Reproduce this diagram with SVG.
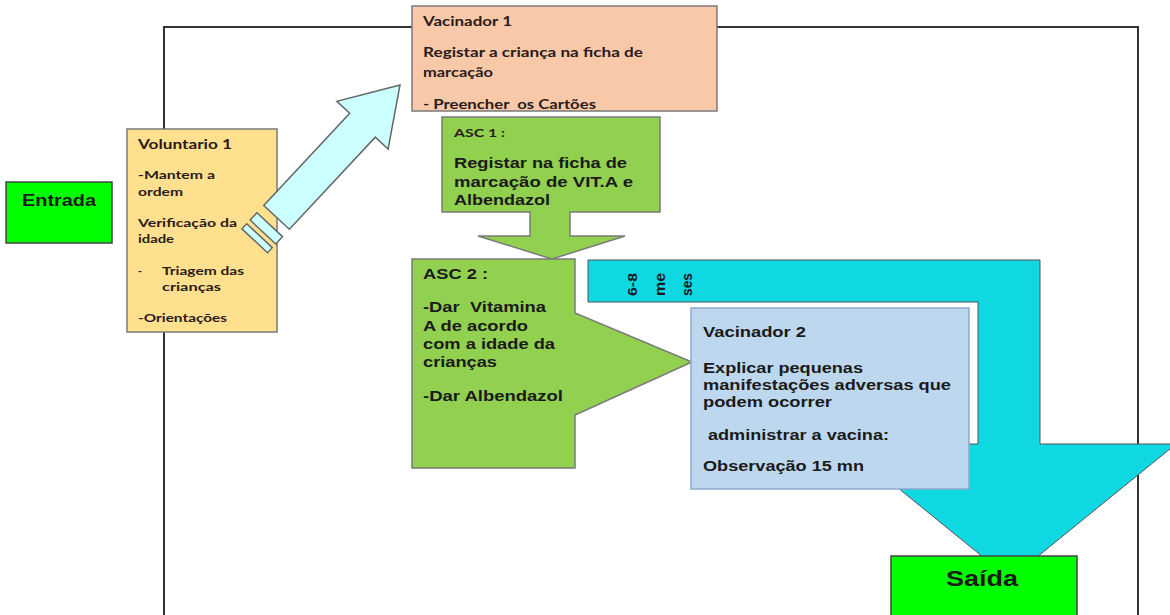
<svg xmlns="http://www.w3.org/2000/svg" width="1170" height="615" viewBox="0 0 1170 615">
<style>
.a{font-family:"Liberation Sans",Arial,sans-serif;font-weight:bold;fill:#1a1a1a}
.c{font-family:Lato,"Liberation Sans",sans-serif;font-weight:bold;fill:#2a1a1a}
.box{stroke:#7a7a7a;stroke-width:1.5}
</style>
<rect width="1170" height="615" fill="#ffffff"/>
<g id="frame"><polyline points="164,615 164,27 1138,27 1138,615" fill="none" stroke="#333" stroke-width="2"/></g>
<g id="entrada">
<rect x="6" y="182" width="106" height="61" fill="#00ff00" stroke="#444" stroke-width="1.5"/>
<text class="a" x="22" y="206" font-size="16" textLength="74" lengthAdjust="spacingAndGlyphs">Entrada</text>
</g>
<g id="voluntario1">
<rect class="box" x="127" y="129" width="150" height="203" fill="#ffe08e"/>
<text class="c" x="138" y="149" font-size="13" textLength="94" lengthAdjust="spacingAndGlyphs">Voluntario 1</text>
<text class="c" x="138" y="179" font-size="11" textLength="77" lengthAdjust="spacingAndGlyphs">-Mantem a</text>
<text class="c" x="138" y="196" font-size="11" textLength="45" lengthAdjust="spacingAndGlyphs">ordem</text>
<text class="c" x="138" y="227" font-size="11" textLength="99" lengthAdjust="spacingAndGlyphs">Verificação da</text>
<text class="c" x="138" y="243" font-size="11" textLength="36" lengthAdjust="spacingAndGlyphs">idade</text>
<text class="c" x="138" y="275" font-size="11">-</text>
<text class="c" x="162" y="275" font-size="11" textLength="82" lengthAdjust="spacingAndGlyphs">Triagem das</text>
<text class="c" x="162" y="291" font-size="11" textLength="59" lengthAdjust="spacingAndGlyphs">crianças</text>
<text class="c" x="138" y="322" font-size="11" textLength="89" lengthAdjust="spacingAndGlyphs">-Orientações</text>
</g>
<g id="connectors">
<g transform="translate(400,85) rotate(-47)" fill="#ccffff" stroke="#666" stroke-width="1.5">
<polygon points="0,0 -55,-35 -55,-17.5 -181,-17.5 -181,17.5 -55,17.5 -55,35"/>
<rect x="-201" y="-17.5" width="10" height="35"/>
<rect x="-213" y="-17.5" width="7" height="35"/>
</g>
<polygon points="588,260 1040,260 1040,444 1176,444 1010,579 844,444 978,444 978,302 588,302" fill="#0fd8e2" stroke="#555" stroke-width="1"/>
<text class="a" transform="translate(637,296) rotate(-90)" font-size="12" textLength="23" lengthAdjust="spacingAndGlyphs">6-8</text>
<text class="a" transform="translate(665,296) rotate(-90)" font-size="14" textLength="23" lengthAdjust="spacingAndGlyphs">me</text>
<text class="a" transform="translate(692,296) rotate(-90)" font-size="14" textLength="23" lengthAdjust="spacingAndGlyphs">ses</text>
</g>
<g id="vacinador1">
<rect class="box" x="412" y="6" width="305" height="105" fill="#f8c9a8"/>
<text class="c" x="423" y="26" font-size="13" textLength="89" lengthAdjust="spacingAndGlyphs">Vacinador 1</text>
<text class="c" x="423" y="57" font-size="13" textLength="220" lengthAdjust="spacingAndGlyphs">Registar a criança na ficha de</text>
<text class="c" x="423" y="77" font-size="13" textLength="70" lengthAdjust="spacingAndGlyphs">marcação</text>
<text class="c" x="423" y="109" font-size="13" textLength="173" lengthAdjust="spacingAndGlyphs" xml:space="preserve">- Preencher  os Cartões</text>
</g>
<g id="asc1">
<polygon class="box" points="442,117 660,117 660,212 570,212 570,236 625,236 552,259 478,236 530,236 530,212 442,212" fill="#92d050"/>
<text class="c" x="454" y="137" font-size="12" textLength="51" lengthAdjust="spacingAndGlyphs">ASC 1 :</text>
<text class="a" x="454" y="168" font-size="15" textLength="173" lengthAdjust="spacingAndGlyphs">Registar na ficha de</text>
<text class="a" x="454" y="187" font-size="15" textLength="179" lengthAdjust="spacingAndGlyphs">marcação de VIT.A e</text>
<text class="a" x="454" y="205" font-size="15" textLength="96" lengthAdjust="spacingAndGlyphs">Albendazol</text>
</g>
<g id="asc2">
<polygon class="box" points="412,259 575,259 575,313 692,362 575,415 575,468 412,468" fill="#92d050"/>
<text class="a" x="423" y="279" font-size="15" textLength="65" lengthAdjust="spacingAndGlyphs">ASC 2 :</text>
<text class="a" x="423" y="312" font-size="15" textLength="123" lengthAdjust="spacingAndGlyphs" xml:space="preserve">-Dar  Vitamina</text>
<text class="a" x="423" y="331" font-size="15" textLength="105" lengthAdjust="spacingAndGlyphs">A de acordo</text>
<text class="a" x="423" y="349" font-size="15" textLength="132" lengthAdjust="spacingAndGlyphs">com a idade da</text>
<text class="a" x="423" y="367" font-size="15" textLength="74" lengthAdjust="spacingAndGlyphs">crianças</text>
<text class="a" x="423" y="401" font-size="15" textLength="140" lengthAdjust="spacingAndGlyphs">-Dar Albendazol</text>
</g>
<g id="vacinador2">
<rect x="691" y="308" width="278" height="181" fill="#bdd7ee" stroke="#8ea9cf" stroke-width="1.5"/>
<text class="a" x="703" y="337" font-size="14" textLength="103" lengthAdjust="spacingAndGlyphs">Vacinador 2</text>
<text class="a" x="703" y="373" font-size="14" textLength="160" lengthAdjust="spacingAndGlyphs">Explicar pequenas</text>
<text class="a" x="703" y="390" font-size="14" textLength="248" lengthAdjust="spacingAndGlyphs">manifestações adversas que</text>
<text class="a" x="703" y="407" font-size="14" textLength="129" lengthAdjust="spacingAndGlyphs">podem ocorrer</text>
<text class="a" x="708" y="440" font-size="14" textLength="181" lengthAdjust="spacingAndGlyphs">administrar a vacina:</text>
<text class="a" x="703" y="471" font-size="14" textLength="161" lengthAdjust="spacingAndGlyphs">Observação 15 mn</text>
</g>
<g id="saida">
<rect x="891" y="556" width="186" height="70" fill="#00ff00" stroke="#444" stroke-width="1.5"/>
<text class="a" x="982" y="586" font-size="22" text-anchor="middle" textLength="72" lengthAdjust="spacingAndGlyphs">Saída</text>
</g>
</svg>
